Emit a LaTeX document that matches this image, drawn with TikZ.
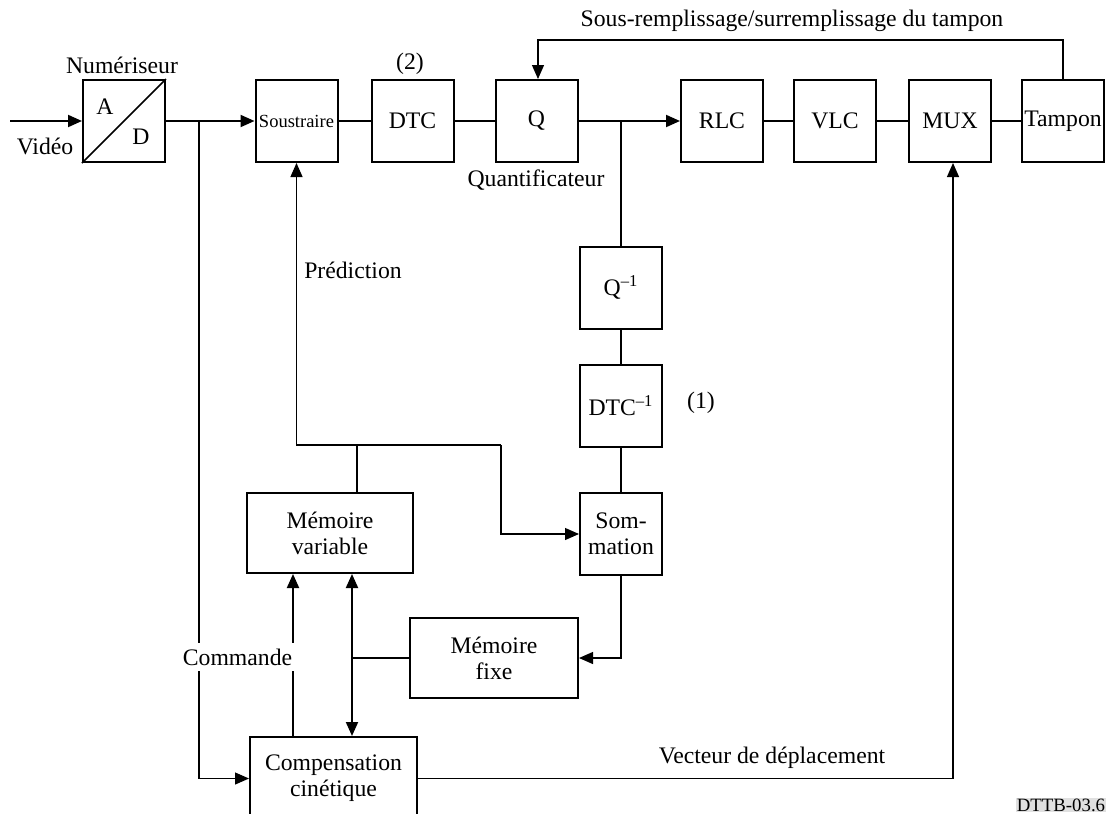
\documentclass[tikz,border=0pt]{standalone}
\usepackage{fontspec}
\setmainfont{Liberation Serif}
\usetikzlibrary{arrows.meta}
\begin{document}
\begin{tikzpicture}[x=0.5pt,y=-0.5pt,
  box/.style={draw,line width=1pt,inner sep=0pt,minimum width=41pt,minimum height=41pt,align=center,font=\fontsize{11.85}{13}\selectfont},
  wire/.style={line width=1pt},
  thinwire/.style={line width=0.6pt},
  tip/.style={-{Triangle[length=7pt,width=6pt]}},
  tipboth/.style={{Triangle[length=7pt,width=6pt]}-{Triangle[length=7pt,width=6pt]}},
  lbl/.style={font=\fontsize{11.85}{13}\selectfont,inner sep=0pt,align=center}
]
\clip (0,0) rectangle (1109,814);
\fill[white] (0,0) rectangle (1109,814);

% top row
\node[box] (ad) at (124,121) {};
\draw[line width=0.8pt] (ad.south west) -- (ad.north east);
\node[lbl] at (105,107) {A};
\node[lbl] at (141,137) {D};
\node[lbl] at (122,65) {Numériseur};
\node[box,font=\fontsize{9.25}{11}\selectfont] (sub) at (296.5,121) {Soustraire};
\node[box] (dtc) at (412.5,121) {DTC};
\node[lbl] at (410,64) {(2)};
\node[box] (q) at (536.5,121) {Q};
\node[lbl] at (536,180) {Quantificateur};
\node[box] (rlc) at (722,121) {RLC};
\node[box] (vlc) at (835,121) {VLC};
\node[box] (mux) at (950,121) {MUX};
\node[box] (tam) at (1063,121) {Tampon};
\node[lbl] at (792,21) {Sous-remplissage/surremplissage du tampon};

% inverse chain
\node[box] (qi) at (621,287.5) {Q\textsuperscript{–1}};
\node[box] (dtci) at (621,405.5) {DTC\textsuperscript{–1}};
\node[lbl] at (701,403) {(1)};
\node[box] (som) at (621,534) {Som-\\mation};

% memories
\node[box,minimum width=83pt,minimum height=40pt] (mv) at (330,533) {Mémoire\\variable};
\node[box,minimum width=84pt,minimum height=40pt] (mf) at (494,658) {Mémoire\\fixe};
\node[box,minimum width=83.5pt,minimum height=41.5pt] (comp) at (333.5,778.5) {Compensation\\cinétique};
\node[lbl] at (353,270) {Prédiction};

% connectors
\coordinate (vin) at (10,121);
\draw[wire,tip] (vin) -- (ad.west);
\node[lbl] at (45,146) {Vidéo};
\draw[wire,tip] (ad.east) -- (sub.west);
\coordinate (b1) at (199,121);
\draw[thinwire,tip] (b1) |- (comp.west);
\draw[wire] (sub.east) -- (dtc.west);
\draw[wire] (dtc.east) -- (q.west);
\draw[wire,tip] (q.east) -- (rlc.west);
\coordinate (b2) at (621,121);
\draw[wire] (b2) -- (qi.north);
\draw[wire] (rlc.east) -- (vlc.west);
\draw[wire] (vlc.east) -- (mux.west);
\draw[wire] (mux.east) -- (tam.west);
\coordinate (fb) at (538,40);
\draw[thinwire,tip] (tam.north) |- (fb) -- (fb |- q.north);
\draw[wire] (qi.south) -- (dtci.north);
\draw[wire] (dtci.south) -- (som.north);

\coordinate (pj) at (357,445);
\coordinate (pr) at (501,445);
\coordinate (pl) at (296.5,445);
\draw[wire] (pj) -- (pj |- mv.north);
\draw[thinwire,tip] (pr) -- (pl) -- (sub.south);
\draw[thinwire,tip] (pr) |- (som.west);
\draw[thinwire,tip] (som.south) |- (mf.east);
\coordinate (mj) at (352,658);
\draw[wire] (mf.west) -- (mj);
\draw[wire,tipboth] (mj |- mv.south) -- (mj |- comp.north);
\coordinate (cx) at (293,700);
\draw[wire,tip] (cx |- comp.north) -- (cx |- mv.south);
\node[lbl,fill=white,inner xsep=4pt,inner ysep=3pt] (cmd) at (237.5,657) {Commande};
\draw[thinwire,tip] (comp.east) -| ([xshift=1.5pt]mux.south);
\node[lbl] at (772,758) {Vecteur de déplacement};
\node[font=\fontsize{9.4}{11}\selectfont,fill=black!12,inner sep=0.5pt] at (1061,805) {DTTB-03.6};
\end{tikzpicture}
\end{document}
